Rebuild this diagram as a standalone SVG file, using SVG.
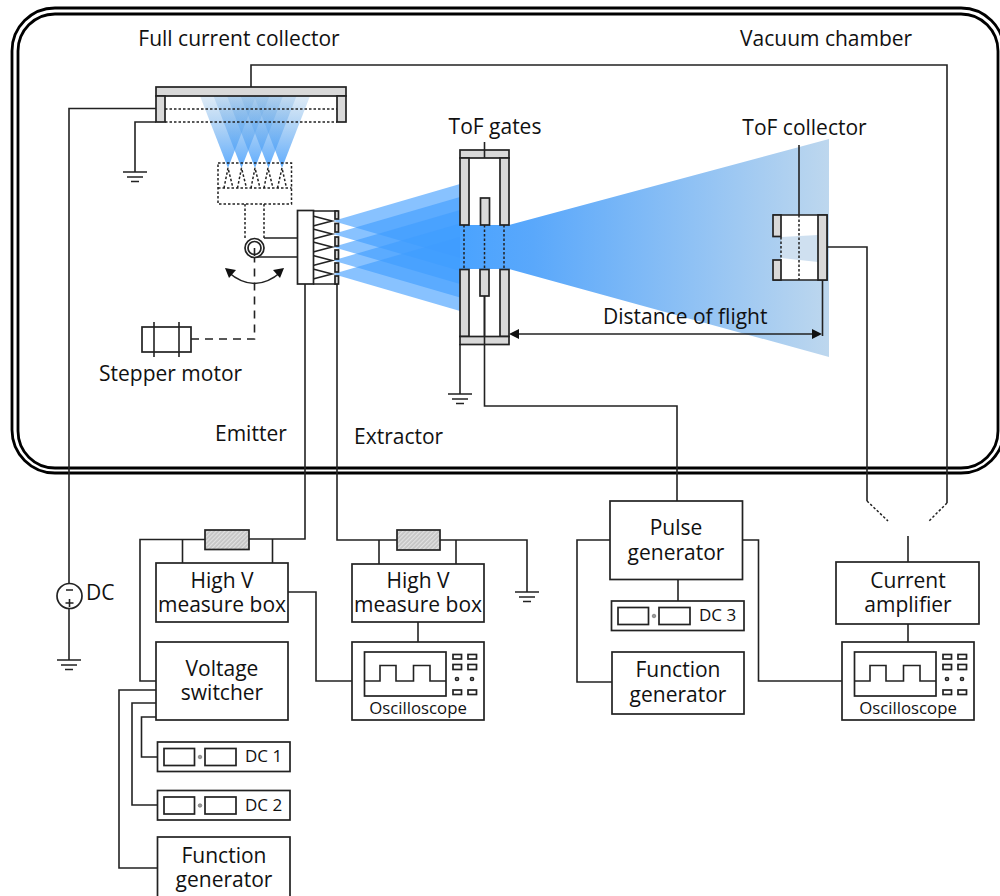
<svg xmlns="http://www.w3.org/2000/svg" width="1000" height="896" viewBox="0 0 1000 896">
<style>
text{font-family:"Open Sans","Noto Sans","Liberation Sans",sans-serif;font-size:21px;fill:#111}
.m{text-anchor:middle}
.w{fill:none;stroke:#222;stroke-width:1.6}
.b{fill:#fff;stroke:#222;stroke-width:1.7}
.g{fill:#d9d9d9;stroke:#222;stroke-width:1.7}
.r{fill:url(#hatch);stroke:#222;stroke-width:1.7}
.d{fill:none;stroke:#222;stroke-width:1.5;stroke-dasharray:2.500 2}
.ch{fill:none;stroke:#000;stroke-width:2.8}
.small{font-size:17px}
.scope{font-size:16.800px}
.dot{fill:#999;stroke:#666;stroke-width:.6}
</style>
<defs>
<pattern id="hatch" width="3" height="3" patternUnits="userSpaceOnUse" patternTransform="rotate(45)"><rect width="3" height="3" fill="#c4c4c4"/><rect width="1.2" height="3" fill="#e2e2e2"/></pattern>
<linearGradient id="cone" x1="0" y1="168" x2="0" y2="96" gradientUnits="userSpaceOnUse"><stop offset="0" stop-color="#3f9cff" stop-opacity=".85"/><stop offset="1" stop-color="#7db1e0" stop-opacity=".26"/></linearGradient>
<linearGradient id="far" x1="460" y1="0" x2="829" y2="0" gradientUnits="userSpaceOnUse"><stop offset="0" stop-color="#4aa3ff"/><stop offset=".2" stop-color="#5aa8fb"/><stop offset="1" stop-color="#bdd7ee"/></linearGradient>
<g id="ground"><path d="M-12 0H12M-8 5H8M-4 9.500H4" fill="none" stroke="#222" stroke-width="1.600"/></g>
<g id="scopeface">
<rect class="b" width="132" height="78"/>
<rect class="b" x="12.500" y="10" width="81.500" height="44"/>
<path class="w" d="M12.500 39H28V23.500H44V39H61.500V23.500H78V39H94"/>
<rect class="b" x="101" y="12.500" width="8.500" height="4.500"/><rect class="b" x="116" y="12.500" width="8.500" height="4.500"/>
<rect class="b" x="101" y="22.500" width="8.500" height="5"/><rect class="b" x="116" y="22.500" width="8.500" height="5"/>
<circle class="b" cx="105" cy="37" r="1.500"/><circle class="b" cx="120" cy="37" r="1.500"/>
<rect class="b" x="101" y="48" width="8.500" height="4.500"/><rect class="b" x="116" y="48" width="8.500" height="4.500"/>
<text class="m scope" x="66" y="72">Oscilloscope</text>
</g>
<g id="dcface">
<rect class="b" width="132.500" height="29.500"/>
<rect class="b" x="6.500" y="6.500" width="30.500" height="17"/>
<rect class="b" x="47.500" y="6.500" width="31" height="17"/>
<circle class="dot" cx="42.500" cy="15" r="1.800"/>
</g>
</defs>

<g id="beams">
<g fill="url(#cone)">
<polygon points="228,168 200,96 256,96"/><polygon points="241.500,168 213.500,96 269.500,96"/><polygon points="255,168 227,96 283,96"/><polygon points="268.500,168 240.500,96 296.500,96"/><polygon points="282,168 254,96 310,96"/>
</g>
<polygon points="460,225 509,225 829,139 829,357 509,269 460,269" fill="url(#far)"/>
<g fill="#3f9cff" fill-opacity=".62">
<polygon points="333,221 460,184 460,258"/><polygon points="333,234 460,197 460,271"/><polygon points="333,247 460,210 460,284"/><polygon points="333,260.500 460,223.500 460,297.500"/><polygon points="333,274 460,237 460,311"/>
</g>
</g>

<g id="chamber">
<rect class="ch" x="12" y="8" width="992" height="465" rx="43" ry="43"/>
<rect class="ch" x="18" y="14" width="980" height="454" rx="37" ry="37"/>
</g>

<g id="connectors">
<path class="w" d="M251 87V65H947V503"/>
<path class="d" d="M947 503L929 521"/>
<path class="w" d="M827 247H867V501"/>
<path class="d" d="M867 501L888 521"/>
<path class="w" d="M908 536V562"/>
<path class="w" d="M165 108.500H69V584"/>
<path class="w" d="M69 608V660"/>
<path class="w" d="M156 122H135V172"/>
<path class="w" d="M484.500 296V406H677V501"/>
<path class="w" d="M460 344V394"/>
<path class="w" d="M484.500 142V158"/>
<path class="w" d="M799 145V215"/>
<path class="w" d="M822.500 280V336"/>
<path class="w" d="M518 334H814"/>
<polygon points="509,334 519,329 519,339" fill="#111"/><polygon points="822,334 812,329 812,339" fill="#111"/>
<path class="w" d="M305 284V539H249M205 539.500H140V681H156"/>
<path class="w" d="M182.500 539.500V563M272.500 539V563"/>
<path class="w" d="M337 284V540H397M440 540H527V592"/>
<path class="w" d="M379 540V564M456 540V564"/>
<path class="w" d="M288 592H316V681H352"/>
<path class="w" d="M418 622V642"/>
<path class="w" d="M156 690H119V868H157.500"/>
<path class="w" d="M156 703H132V805H157.500"/>
<path class="w" d="M156 717H141.500V757H157.500"/>
<path class="w" d="M610 540H577V682H612"/>
<path class="w" d="M742.500 540H758.500V681H842"/>
<path class="w" d="M678 579V601"/>
<path class="w" d="M908 624V642"/>
<path d="M191 339H254.500V248" fill="none" stroke="#222" stroke-width="1.600" stroke-dasharray="8 6"/>
<path class="w" d="M228 272Q254.500 295 281 272"/>
<polygon points="225,268 236,270 229,278" fill="#111"/><polygon points="284,268 273,270 280,278" fill="#111"/>
</g>

<use href="#ground" x="135" y="172"/>
<use href="#ground" x="460" y="394"/>
<use href="#ground" x="527" y="592"/>
<use href="#ground" x="69" y="660"/>

<g id="full-current-collector">
<rect class="g" x="156" y="87" width="190" height="9"/>
<rect class="g" x="156" y="96" width="9" height="26"/>
<rect class="g" x="337" y="96" width="9" height="26"/>
<path class="d" d="M165 109H337M165 122H337"/>
<text class="m" x="239" y="46">Full current collector</text>
</g>

<g id="emitter-ghost">
<rect class="d" x="218" y="163" width="73.500" height="41"/>
<path class="d" d="M218 188H291.500M224 188L228 168L233 188M237.500 188L241.500 168L246.500 188M251 188L255 168L260 188M264 188L268 168L273 188M277.500 188L282 168L286.500 188M245 204V238M264 204V238"/>
</g>

<g id="emitter">
<path class="w" d="M264 238H297M254 257H297"/>
<circle class="b" cx="254.500" cy="248" r="9.500"/><circle class="b" cx="254.500" cy="248" r="6.500"/>
<path d="M254.500 248V256" fill="none" stroke="#222" stroke-width="1.600"/>
<path class="w" d="M313 211H338M313 284H338"/>
<path class="w" d="M313 216L332 221L313 226M313 229L332 234L313 239M313 242L332 247L313 252M313 255.500L332 260.500L313 265.500M313 269L332 274L313 279"/>
<rect class="b" x="297.500" y="210.500" width="16" height="73.500"/>
<g><rect class="g" x="335" y="211" width="3.500" height="8"/><rect class="g" x="335" y="223.500" width="3.500" height="8.500"/><rect class="g" x="335" y="237" width="3.500" height="9"/><rect class="g" x="335" y="250" width="3.500" height="9"/><rect class="g" x="335" y="263" width="3.500" height="9"/><rect class="g" x="335" y="276" width="3.500" height="8"/></g>
<text x="215" y="441">Emitter</text>
<text x="354" y="444">Extractor</text>
</g>

<g id="stepper-motor">
<rect class="b" x="142" y="327" width="49" height="25"/>
<path class="w" d="M154 322V357M179 322V357"/>
<text x="99" y="381">Stepper motor</text>
</g>

<g id="tof-gates">
<rect class="g" x="460" y="150" width="49" height="8"/>
<rect class="g" x="460" y="158" width="9" height="67"/>
<rect class="g" x="500" y="158" width="9" height="67"/>
<rect class="g" x="480.500" y="198" width="9" height="27"/>
<rect class="g" x="460" y="269.500" width="9" height="67"/>
<rect class="g" x="500" y="269.500" width="9" height="67"/>
<rect class="g" x="480" y="269.500" width="9" height="26.500"/>
<rect class="g" x="460" y="336.500" width="49" height="8"/>
<path class="w" d="M484.500 296V336.500M484.500 336.500V344.500M484.500 150V158"/>
<path class="d" d="M464 225V269M484.500 225V269M504 225V269"/>
<text class="m" x="495" y="134">ToF gates</text>
</g>

<g id="tof-collector">
<rect x="781" y="215" width="37" height="65" fill="#fff" stroke="none"/>
<polygon points="781,237 818,235 818,262 781,258" fill="#cfe0f0"/>
<path class="w" d="M773 215H827V280H773"/>
<rect class="g" x="773" y="215" width="8" height="21.500"/>
<rect class="g" x="773" y="260" width="8" height="20"/>
<rect class="g" x="818" y="215" width="9" height="65"/>
<path class="d" d="M781 237V260M799 215V280"/>
<text class="m" x="804.500" y="135">ToF collector</text>
</g>

<g id="vacuum-label"><text x="740" y="46">Vacuum chamber</text></g>

<g id="distance-label"><text x="603" y="324">Distance of flight</text></g>

<g id="dc-source">
<circle class="b" cx="69.500" cy="596" r="12.500"/>
<path class="w" d="M66 590H73M65.500 603H73.500M69.500 599V607"/>
<text x="86" y="600">DC</text>
</g>

<g id="resistor-1"><rect class="r" x="205" y="530" width="44" height="19.500"/></g>
<g id="resistor-2"><rect class="r" x="397" y="530" width="43" height="20"/></g>

<g id="hv-box-1">
<rect class="b" x="156" y="563" width="132" height="59"/>
<text class="m" x="222" y="588">High V</text><text class="m" x="222" y="612">measure box</text>
</g>
<g id="hv-box-2">
<rect class="b" x="352" y="564" width="132" height="58"/>
<text class="m" x="418" y="588">High V</text><text class="m" x="418" y="612">measure box</text>
</g>
<g id="voltage-switcher">
<rect class="b" x="156" y="642" width="132" height="78"/>
<text class="m" x="222" y="676">Voltage</text><text class="m" x="222" y="700">switcher</text>
</g>
<g id="scope-1"><use href="#scopeface" x="352" y="642"/></g>
<g id="scope-2"><use href="#scopeface" x="842" y="642"/></g>
<g id="dc-1"><use href="#dcface" x="157.500" y="742"/><text class="small" x="245" y="762">DC 1</text></g>
<g id="dc-2"><use href="#dcface" x="157.500" y="790.500"/><text class="small" x="245" y="811">DC 2</text></g>
<g id="dc-3"><use href="#dcface" x="611.500" y="601"/><text class="small" x="699" y="621">DC 3</text></g>
<g id="function-generator-1">
<rect class="b" x="157.500" y="837" width="132.500" height="70"/>
<text class="m" x="224" y="863">Function</text><text class="m" x="224" y="887">generator</text>
</g>
<g id="function-generator-2">
<rect class="b" x="612" y="652" width="132" height="62"/>
<text class="m" x="678" y="677">Function</text><text class="m" x="678" y="702">generator</text>
</g>
<g id="pulse-generator">
<rect class="b" x="610" y="501" width="132.500" height="78.500"/>
<text class="m" x="676" y="535">Pulse</text><text class="m" x="676" y="560">generator</text>
</g>
<g id="current-amplifier">
<rect class="b" x="836" y="562" width="143" height="62"/>
<text class="m" x="908" y="588">Current</text><text class="m" x="908" y="612">amplifier</text>
</g>
</svg>
